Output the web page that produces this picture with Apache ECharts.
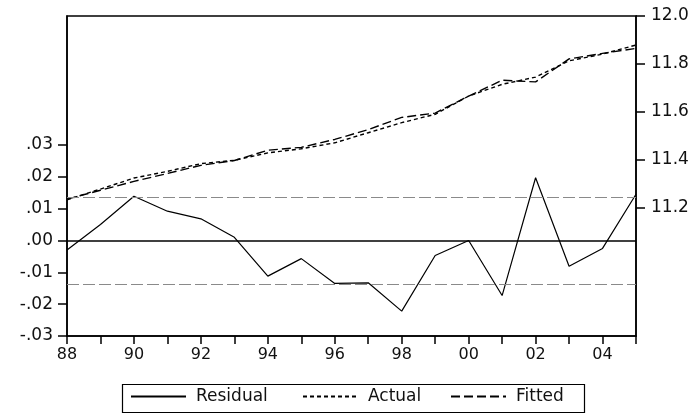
<!DOCTYPE html>
<html>
<head>
<meta charset="utf-8">
<script src="https://cdn.jsdelivr.net/npm/echarts@6/dist/echarts.min.js"></script>
<style>html,body{margin:0;padding:0;background:#fff}#c{width:700px;height:413px}</style>
</head>
<body>
<div id="c"></div>
<script>
var years = ['88','89','90','91','92','93','94','95','96','97','98','99','00','01','02','03','04','05'];
var residual = [-0.003, 0.005, 0.0139, 0.0092, 0.0068, 0.0010, -0.0112, -0.0057, -0.0135, -0.0133, -0.0222, -0.0047, 0.0000, -0.0173, 0.0197, -0.0081, -0.0025, 0.0145];
var actual = [11.233, 11.278, 11.324, 11.352, 11.384, 11.398, 11.429, 11.446, 11.471, 11.513, 11.555, 11.590, 11.666, 11.715, 11.745, 11.813, 11.841, 11.879];
var fitted = [11.236, 11.273, 11.310, 11.343, 11.377, 11.397, 11.440, 11.452, 11.485, 11.526, 11.577, 11.595, 11.666, 11.732, 11.725, 11.821, 11.844, 11.865];
var leftTicks = [-0.03, -0.02, -0.01, 0, 0.01, 0.02, 0.03];
var rightTicks = [11.2, 11.4, 11.6, 11.8, 12.0];
var seBand = 0.0136;
var legendNames = ['Residual', 'Actual', 'Fitted'];

var FONT = 'DejaVu Sans';
function fmtLeft(v){
  var s = Math.abs(v).toFixed(2).replace(/^0/, '');
  return (v < -1e-9 ? '-' : '') + s;
}
function oneLegend(name, left){
  return {
    left: left, top: 388, data: [name],
    itemWidth: 55, itemHeight: 14, padding: 0,
    itemStyle: {opacity: 0},
    textStyle: {fontFamily: FONT, fontSize: 17, color: '#111', padding: [0, 0, 0, 5]},
    selectedMode: false
  };
}
var chart = echarts.init(document.getElementById('c'), null, {renderer:'canvas'});
chart.setOption({
  animation: false,
  backgroundColor: '#fff',
  grid: {left: 67, right: 64, top: 16, bottom: 77, show: true, borderColor: '#000', borderWidth: 1.5, backgroundColor: 'transparent'},
  legend: [oneLegend(legendNames[0], 130), oneLegend(legendNames[1], 302), oneLegend(legendNames[2], 450)],
  graphic: [{
    type: 'rect', left: 120, top: 382, silent: true,
    shape: {width: 462, height: 28},
    style: {fill: 'none', stroke: '#000', lineWidth: 1.2}
  }],
  xAxis: {
    type: 'category', data: years, boundaryGap: false,
    axisLine: {onZero: false, lineStyle: {color: '#000', width: 1.5}},
    axisTick: {show: true, interval: 0, length: 8, lineStyle: {color: '#000', width: 1.5}},
    axisLabel: {interval: 1, fontFamily: FONT, fontSize: 16, color: '#111', margin: 11},
    splitLine: {show: false}
  },
  yAxis: [
    {
      type: 'value', position: 'left', min: -0.03, max: 0.0705,
      axisLine: {show: true, onZero: false, lineStyle: {color: '#000', width: 1.5}},
      axisTick: {show: true, length: 9, customValues: leftTicks, lineStyle: {color: '#000', width: 1.5}},
      axisLabel: {customValues: leftTicks, formatter: fmtLeft, fontFamily: FONT, fontSize: 17, color: '#111', margin: 14},
      splitLine: {show: false}
    },
    {
      type: 'value', position: 'right', min: 10.665, max: 12.0,
      axisLine: {show: true, onZero: false, lineStyle: {color: '#000', width: 1.5}},
      axisTick: {show: true, length: 9, customValues: rightTicks, lineStyle: {color: '#000', width: 1.5}},
      axisLabel: {customValues: rightTicks, formatter: function(v){return v.toFixed(1);}, fontFamily: FONT, fontSize: 17, color: '#111', margin: 15},
      splitLine: {show: false}
    }
  ],
  series: [
    {
      name: 'Residual', type: 'line', yAxisIndex: 0, data: residual,
      symbol: 'none', lineStyle: {color: '#000', width: 1.2, type: 'solid'}, itemStyle: {color: '#000'},
      z: 3,
      markLine: {
        silent: true, symbol: 'none', label: {show: false}, precision: 6,
        data: [
          {yAxis: 0, lineStyle: {color: '#000', width: 1.5, type: 'solid'}},
          {yAxis: seBand, lineStyle: {color: '#8a8a8a', width: 1.2, type: [12, 4]}},
          {yAxis: -seBand, lineStyle: {color: '#8a8a8a', width: 1.2, type: [12, 4]}}
        ]
      }
    },
    {
      name: 'Actual', type: 'line', yAxisIndex: 1, data: actual,
      symbol: 'none', lineStyle: {color: '#000', width: 1.4, type: [4, 3]}, itemStyle: {color: '#000'}
    },
    {
      name: 'Fitted', type: 'line', yAxisIndex: 1, data: fitted,
      symbol: 'none', lineStyle: {color: '#000', width: 1.4, type: [9, 4]}, itemStyle: {color: '#000'}
    }
  ]
});
</script>
</body>
</html>
